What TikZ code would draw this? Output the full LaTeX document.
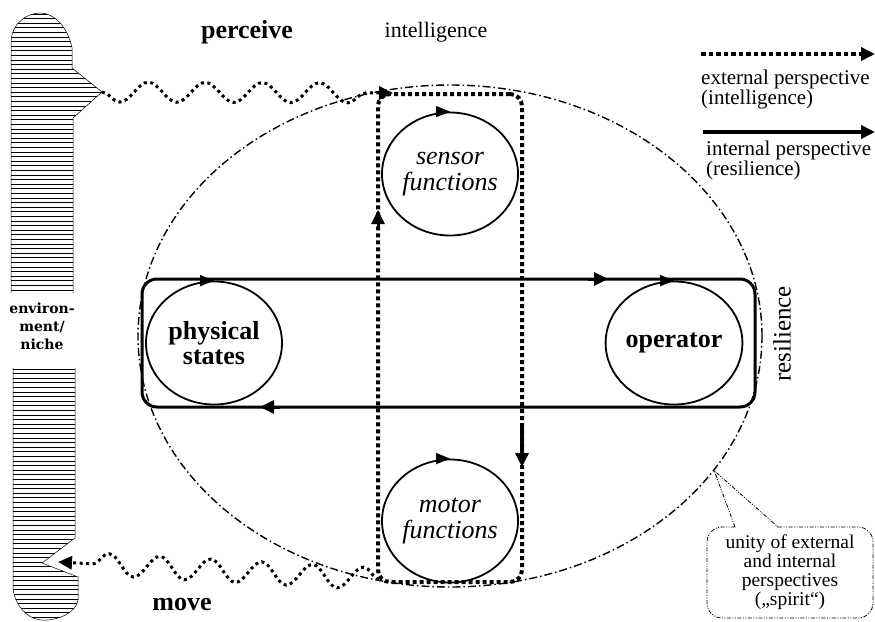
\documentclass[tikz,border=0pt]{standalone}
\usepackage{fontspec}
\setmainfont{Liberation Serif}
\newfontfamily\envfont{DejaVu Serif}
\usetikzlibrary{arrows.meta,decorations.pathmorphing,shapes.geometric,calc}
\begin{document}
\begin{tikzpicture}[x=1pt,y=-1pt,
  tip/.style={-{Triangle[length=14pt,width=13pt]}},
  smalltip/.style={-{Triangle[length=14pt,width=11pt]}},
  dotline/.style={line width=4pt, dash pattern=on 4pt off 3pt},
  wavyA/.style={line width=3pt, dash pattern=on 3pt off 3.5pt, decorate,
     decoration={snake,amplitude=-10pt,segment length=57pt,post length=14pt}},
  wavyB/.style={line width=3pt, dash pattern=on 3pt off 3.5pt, decorate,
     decoration={snake,amplitude=-11pt,segment length=51pt,post length=16pt}},
  circ/.style={draw, ellipse, line width=1.8pt, minimum width=136pt, minimum height=123pt, inner sep=0pt, align=center},
  boldlab/.style={font=\fontsize{26}{25}\selectfont\bfseries},
  itlab/.style={font=\fontsize{26}{26}\selectfont\itshape},
  dashdot/.style={line width=1.4pt, dash pattern=on 8pt off 3pt on 1.5pt off 3pt},
  calloutline/.style={line width=0.8pt, dash pattern=on 4pt off 1.5pt on 1pt off 1.5pt on 1pt off 1.5pt},
  hatch/.style={line width=0.7pt},
]
\useasboundingbox (0,0) rectangle (875,621);

% environment / niche
\begin{scope}
\clip (11,293) -- (11,42) .. controls (12,22) and (28,13) .. (40,13) .. controls (55,13) and (68,28) .. (72,48) -- (72,68) -- (102,92) -- (73,118) -- (73,293) -- cycle;
\foreach \yy in {14,18.6,...,296} \draw[hatch] (0,\yy) -- (110,\yy);
\end{scope}
\draw[line width=0.5pt] (11,293) -- (11,42) .. controls (12,22) and (28,13) .. (40,13) .. controls (55,13) and (68,28) .. (72,48) -- (72,68) -- (102,92) -- (73,118) -- (73,293);
\begin{scope}
\clip (13,368) -- (75,368) -- (75,538) -- (42,563) -- (78,577) -- (78,600) .. controls (76,614) and (55,621) .. (42,620) .. controls (25,619) and (14,602) .. (13,588) -- cycle;
\foreach \yy in {369,373.6,...,622} \draw[hatch] (0,\yy) -- (110,\yy);
\end{scope}
\draw[line width=0.5pt] (13,368) -- (13,588) .. controls (14,602) and (25,619) .. (42,620) .. controls (55,621) and (76,614) .. (78,600) -- (78,577) -- (42,563) -- (75,538) -- (75,368);
\node[align=center, font=\envfont\fontsize{14}{18}\selectfont\bfseries] (env) at (42,326) {environ-\\ment/\\niche};
\coordinate (envtip) at (102,92);
\coordinate (envnotch) at (58,562);

% spirit ellipse
\node[draw, dashdot, ellipse, minimum width=624pt, minimum height=502pt, inner sep=0pt] (spirit) at (450,336) {};

% loops
\node[draw, line width=3pt, rounded corners=15pt, minimum width=613pt, minimum height=128pt, inner sep=0pt] (loop) at (448.5,343) {};
\node[draw, dotline, rounded corners=12pt, minimum width=144pt, minimum height=488pt, inner sep=0pt] (intel) at (450,338) {};

% circles
\node[circ, boldlab] (phys) at (214,343) {physical\\states};
\node[circ, boldlab] (oper) at (674,343) {operator};
\node[circ, itlab] (sens) at (450,174) {sensor\\functions};
\node[circ, itlab] (motor) at (450,521) {motor\\functions};
\foreach \c in {phys,oper,sens,motor}
  \draw[smalltip, line width=1.8pt] ([xshift=-10pt]\c.north) -- (\c.north);

% arrows on loops
\coordinate (la) at (588,279);
\coordinate (lb) at (608,279);
\draw[tip, line width=3pt] (la) -- (lb);
\coordinate (lc) at (280,407);
\coordinate (ld) at (260,407);
\draw[tip, line width=3pt] (lc) -- (ld);
\coordinate (ia) at (378,228);
\coordinate (ib) at (378,210);
\draw[tip, line width=3pt] (ia) -- (ib);
\coordinate (ic) at (522,425);
\coordinate (id) at (522,467);
\draw[tip, line width=4pt] (ic) -- (id);

% perceive / move
\coordinate (pin) at (393,93);
\draw[wavyA, tip] (envtip) -- (pin);
\coordinate (mstart) at (379,579);
\draw[wavyB, tip] (mstart) -- (envnotch);

% labels
\node[boldlab] (perc) at (247,32) {perceive};
\node[font=\fontsize{22}{22}\selectfont] (intl) at (436,32) {intelligence};
\node[boldlab] (movel) at (182,604) {move};
\node[rotate=90, font=\fontsize{25}{25}\selectfont] (res) at (782,334) {resilience};

% legend
\coordinate (l1a) at (701,54);
\coordinate (l1b) at (875,54);
\draw[dotline, line width=4.5pt, dash pattern=on 4.5pt off 3pt, tip] (l1a) -- (l1b);
\node[anchor=north west, align=left, inner sep=0pt, font=\fontsize{21}{15}\selectfont] (ext) at (701,70) {external perspective\\(intelligence)};
\coordinate (l2a) at (703,132);
\coordinate (l2b) at (875,132);
\draw[line width=4pt, tip] (l2a) -- (l2b);
\node[anchor=north west, align=left, inner sep=0pt, font=\fontsize{21}{15}\selectfont] (int) at (706,141) {internal perspective\\(resilience)};

% callout
\coordinate (cp) at (spirit.-27.3);
\coordinate (cb1) at (735,527);
\coordinate (cb2) at (778,527);
\draw[calloutline, rounded corners=15pt] (cb1) -- (707,527) -- (707,618) -- (873,618) -- (873,527) -- (cb2);
\draw[calloutline] (cb1) -- (cp) -- (cb2);
\node[align=center, font=\fontsize{19.5}{19}\selectfont] (cal) at (790,572) {unity of external\\and internal\\perspectives\\(„spirit“)};
\end{tikzpicture}
\end{document}
